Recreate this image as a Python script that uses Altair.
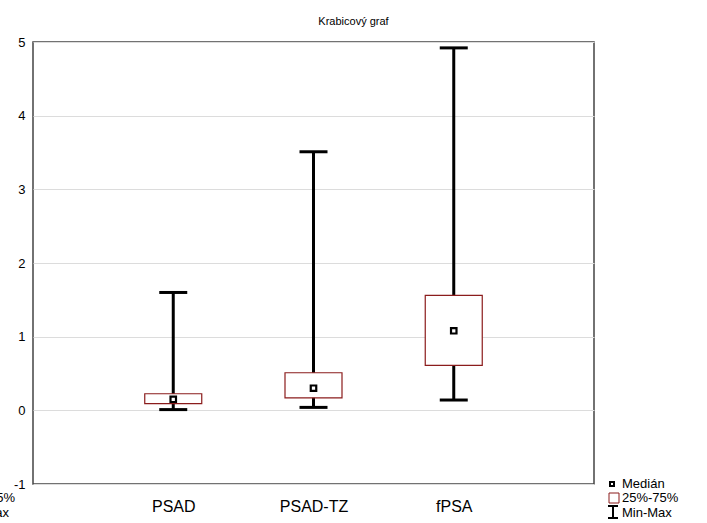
import altair as alt
import pandas as pd

# Summary statistics per variable
variables = ["PSAD", "PSAD-TZ", "fPSA"]
minimum = [0.01, 0.04, 0.14]
q1 = [0.09, 0.17, 0.61]
median = [0.15, 0.30, 1.08]
q3 = [0.225, 0.51, 1.56]
maximum = [1.60, 3.51, 4.92]

df = pd.DataFrame({
    "var": variables,
    "min": minimum,
    "q1": q1,
    "median": median,
    "q3": q3,
    "max": maximum,
})

FONT = "Liberation Sans"
BOX_RED = "#8B1C1C"

x_scale = alt.Scale(type="point", padding=1, domain=variables)
x_axis = alt.Axis(labelAngle=0, labelFontSize=16, labelPadding=14,
                  labelColor="#000", tickSize=0, domain=False, grid=False,
                  labelFont=FONT)
y_scale = alt.Scale(domain=[-1, 5], nice=False, zero=False)
y_axis = alt.Axis(values=[-1, 0, 1, 2, 3, 4, 5], labelFontSize=13, labelColor="#000",
                  labelPadding=8, tickSize=0, domain=False, grid=True,
                  gridColor="#dcdcdc", gridWidth=1, labelFont=FONT,
                  labelExpr="'' + datum.value")


def xe():
    return alt.X("var:N", scale=x_scale, axis=x_axis, title=None)


def ye(field):
    return alt.Y(field, scale=y_scale, axis=y_axis, title=None)


base = alt.Chart(df)

whisker = base.mark_rule(color="black", strokeWidth=3).encode(
    x=xe(), y=ye("min:Q"), y2="max:Q")
cap_lo = base.mark_tick(color="black", thickness=3, size=28, orient="horizontal",
                        opacity=1).encode(x=xe(), y=ye("min:Q"))
cap_hi = base.mark_tick(color="black", thickness=3, size=28, orient="horizontal",
                        opacity=1).encode(x=xe(), y=ye("max:Q"))
box = base.mark_bar(size=57, fill="white", stroke=BOX_RED, strokeWidth=1.2).encode(
    x=xe(), y=ye("q1:Q"), y2="q3:Q")
med = base.mark_point(shape="square", size=30, filled=False, fill="white",
                      stroke="black", strokeWidth=2.2, opacity=1).encode(
    x=xe(), y=ye("median:Q"))

one = pd.DataFrame({"a": [0]})


def label(txt, x, y, align="left"):
    return alt.Chart(one).mark_text(
        text=txt, align=align, baseline="middle", fontSize=13, font=FONT, color="#000"
    ).encode(x=alt.value(x), y=alt.value(y))


# Legend drawn beside the plot frame
leg_med = alt.Chart(one).mark_point(
    shape="square", size=16, filled=False, fill="white", stroke="black", strokeWidth=2, opacity=1
).encode(x=alt.value(579), y=alt.value(442))
leg_box = alt.Chart(one).mark_rect(
    fill="white", stroke=BOX_RED, strokeWidth=1
).encode(x=alt.value(576), x2=alt.value(586), y=alt.value(451), y2=alt.value(461))
leg_ibar = alt.Chart(one).mark_rule(color="black", strokeWidth=2).encode(
    x=alt.value(580), y=alt.value(464), y2=alt.value(476))
leg_top = alt.Chart(one).mark_rule(color="black", strokeWidth=2).encode(
    x=alt.value(575), x2=alt.value(585), y=alt.value(464))
leg_bot = alt.Chart(one).mark_rule(color="black", strokeWidth=2).encode(
    x=alt.value(575), x2=alt.value(585), y=alt.value(476))

legend = [
    leg_med, leg_box, leg_ibar, leg_top, leg_bot,
    label("Medián", 589, 442),
    label("25%-75%", 589, 456),
    label("Min-Max", 589, 471),
    # copy of the legend text running off the left edge
    label("25%-75%", -18, 456, "right"),
    label("Min-Max", -24, 471, "right"),
]

chart = alt.layer(
    whisker, cap_lo, cap_hi, box, med, *legend,
).properties(
    width=561, height=442,
    title=alt.TitleParams("Krabicový graf", fontSize=11, font=FONT, fontWeight="normal",
                          color="#000", anchor="middle", dx=40, offset=9),
    autosize=alt.AutoSizeParams(type="none"),
    padding={"left": 33, "top": 42, "right": 113, "bottom": 39},
).configure_view(
    stroke="#444", strokeWidth=1.5
)

chart.save("out.html", embed_options={"renderer": "svg", "actions": False})
